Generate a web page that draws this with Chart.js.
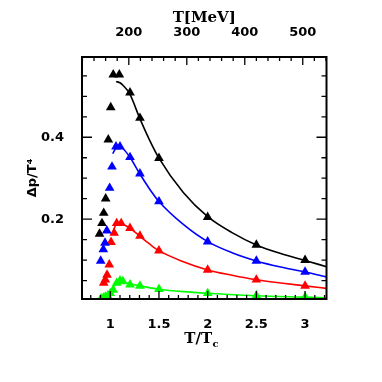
<!DOCTYPE html>
<html>
<head>
<meta charset="utf-8">
<script src="https://cdn.jsdelivr.net/npm/chart.js@4/dist/chart.umd.min.js"></script>
<style>
  html, body { margin: 0; padding: 0; background: #fff; }
  #wrap { width: 382px; height: 382px; }
</style>
</head>
<body>
<div id="wrap"><canvas id="c" width="382" height="382"></canvas></div>
<script>
// lattice points, T/Tc vs delta p / T^4
var blackT = [0.89, 0.915, 0.933, 0.953, 0.98, 1.005, 1.031, 1.093, 1.203, 1.305, 1.5, 2.0, 2.5, 3.0];
var blackP = [0.164, 0.19, 0.215, 0.25, 0.394, 0.473, 0.553, 0.553, 0.509, 0.447, 0.349, 0.205, 0.137, 0.100];

var blueT = [0.902, 0.929, 0.946, 0.965, 0.994, 1.018, 1.059, 1.10, 1.203, 1.305, 1.5, 2.0, 2.5, 3.0];
var blueP = [0.098, 0.126, 0.142, 0.172, 0.276, 0.328, 0.377, 0.377, 0.351, 0.311, 0.243, 0.145, 0.098, 0.071];

var redT = [0.933, 0.95, 0.967, 0.99, 1.008, 1.04, 1.066, 1.112, 1.203, 1.305, 1.5, 2.0, 2.5, 3.0];
var redP = [0.044, 0.052, 0.064, 0.089, 0.144, 0.166, 0.190, 0.190, 0.178, 0.159, 0.123, 0.076, 0.052, 0.037];

var greenT = [0.905, 0.93, 0.95, 0.975, 1.0, 1.03, 1.066, 1.10, 1.13, 1.203, 1.305, 1.5, 2.0, 2.5, 3.0];
var greenP = [0.006, 0.008, 0.010, 0.013, 0.019, 0.027, 0.044, 0.050, 0.048, 0.040, 0.037, 0.029, 0.019, 0.013, 0.0095];

// fitted curves
var blackFitT = [1.06, 1.1, 1.13, 1.2, 1.3, 1.4, 1.5, 1.75, 2.0, 2.25, 2.5, 2.75, 3.0, 3.22];
var blackFitP = [0.536, 0.533, 0.527, 0.506, 0.448, 0.395, 0.349, 0.265, 0.206, 0.167, 0.137, 0.116, 0.099, 0.084];

var blueFitT = [1.025, 1.06, 1.09, 1.2, 1.3, 1.4, 1.5, 1.75, 2.0, 2.25, 2.5, 2.75, 3.0, 3.22];
var blueFitP = [0.360, 0.374, 0.378, 0.352, 0.312, 0.275, 0.243, 0.187, 0.145, 0.118, 0.098, 0.083, 0.071, 0.059];

var redFitT = [1.02, 1.05, 1.09, 1.2, 1.3, 1.4, 1.5, 1.75, 2.0, 2.25, 2.5, 2.75, 3.0, 3.22];
var redFitP = [0.162, 0.183, 0.190, 0.178, 0.159, 0.140, 0.123, 0.096, 0.076, 0.063, 0.052, 0.044, 0.037, 0.031];

var greenFitT = [0.9, 0.95, 1.0, 1.05, 1.1, 1.2, 1.3, 1.5, 1.75, 2.0, 2.5, 3.0, 3.22];
var greenFitP = [0.005, 0.012, 0.024, 0.040, 0.047, 0.042, 0.037, 0.029, 0.023, 0.019, 0.013, 0.0095, 0.008];

// axes
var xTicks = [1, 1.5, 2, 2.5, 3];
var yTicks = [0.2, 0.4];
var mevTicks = [200, 300, 400, 500];
var TC_MEV = 168;
var X_MIN = 0.71, X_MAX = 3.22;
var Y_MIN = 0.005, Y_MAX = 0.596;

function pts(xs, ys) {
  return xs.map(function (x, i) { return { x: x, y: ys[i] }; });
}

function markSet(xs, ys, color) {
  return {
    data: pts(xs, ys),
    showLine: false,
    pointStyle: 'triangle',
    pointRadius: 5.6,
    pointBackgroundColor: color,
    pointBorderColor: color,
    pointBorderWidth: 0,
    order: 0
  };
}

function fitSet(xs, ys, color) {
  return {
    data: pts(xs, ys),
    showLine: true,
    borderColor: color,
    borderWidth: 1.6,
    pointRadius: 0,
    cubicInterpolationMode: 'monotone',
    fill: false,
    order: 1
  };
}

function fixTicks(vals) {
  return function (scale) {
    scale.ticks = vals.map(function (v) { return { value: v }; });
  };
}

var tickFont = { family: 'DejaVu Sans', size: 13, weight: 'bold' };

// frame, inward ticks on all four sides, and the T/Tc title
var framePlugin = {
  id: 'frame',
  afterDraw: function (chart) {
    var ctx = chart.ctx;
    var a = chart.chartArea;
    var xs = chart.scales.x, ys = chart.scales.y, ts = chart.scales.x2;
    var i, v, p;

    ctx.save();
    ctx.strokeStyle = '#000';
    ctx.lineWidth = 1.3;
    ctx.beginPath();

    for (i = 8; i <= 32; i++) {
      v = i / 10;
      p = xs.getPixelForValue(v);
      var lx = (i % 5 === 0) ? 8 : 4;
      ctx.moveTo(p, a.bottom); ctx.lineTo(p, a.bottom - lx);
    }
    for (v = 120; v <= 540; v += 20) {
      p = ts.getPixelForValue(v);
      var lt = (v % 100 === 0) ? 8 : 4;
      ctx.moveTo(p, a.top); ctx.lineTo(p, a.top + lt);
    }
    for (i = 1; i <= 11; i++) {
      v = i * 0.05;
      p = ys.getPixelForValue(v);
      var ly = (i % 4 === 0) ? 10 : 5;
      ctx.moveTo(a.left, p); ctx.lineTo(a.left + ly, p);
      ctx.moveTo(a.right, p); ctx.lineTo(a.right - ly, p);
    }
    ctx.stroke();

    ctx.lineWidth = 2;
    ctx.strokeRect(a.left, a.top, a.right - a.left, a.bottom - a.top);

    // x title with subscript c
    ctx.fillStyle = '#000';
    ctx.textBaseline = 'alphabetic';
    ctx.font = 'bold 15px "DejaVu Serif"';
    var main = 'T/T';
    var w1 = ctx.measureText(main).width;
    ctx.font = 'bold 10px "DejaVu Serif"';
    var w2 = ctx.measureText('c').width;
    var x0 = (a.left + a.right) / 2 - (w1 + w2) / 2 - 3;
    ctx.font = 'bold 15px "DejaVu Serif"';
    ctx.fillText(main, x0, 343);
    ctx.font = 'bold 10px "DejaVu Serif"';
    ctx.fillText('c', x0 + w1 + 0.5, 347);
    ctx.restore();
  }
};

new Chart(document.getElementById('c'), {
  type: 'scatter',
  data: {
    datasets: [
      markSet(blackT, blackP, '#000000'),
      markSet(blueT, blueP, '#0000ff'),
      markSet(redT, redP, '#ff0000'),
      markSet(greenT, greenP, '#00ff00'),
      fitSet(blackFitT, blackFitP, '#000000'),
      fitSet(blueFitT, blueFitP, '#0000ff'),
      fitSet(redFitT, redFitP, '#ff0000'),
      fitSet(greenFitT, greenFitP, '#00ff00')
    ]
  },
  options: {
    responsive: false,
    animation: false,
    devicePixelRatio: 1,
    layout: { padding: { left: 0, right: 55.5, top: 0, bottom: 0 } },
    plugins: { legend: { display: false }, tooltip: { enabled: false } },
    scales: {
      x: {
        type: 'linear', position: 'bottom', min: X_MIN, max: X_MAX,
        grid: { display: false }, border: { display: false },
        afterBuildTicks: fixTicks(xTicks),
        afterFit: function (s) { s.height = 83; },
        ticks: { font: tickFont, color: '#000', padding: 10, maxRotation: 0,
          callback: function (v) { return String(v); } }
      },
      x2: {
        type: 'linear', position: 'top', min: X_MIN * TC_MEV, max: X_MAX * TC_MEV,
        grid: { display: false }, border: { display: false },
        afterBuildTicks: fixTicks(mevTicks),
        afterFit: function (s) { s.height = 57; },
        ticks: { font: tickFont, color: '#000', padding: 9, maxRotation: 0,
          callback: function (v) { return String(v); } },
        title: { display: true, text: 'T[MeV]', color: '#000',
          font: { family: 'DejaVu Serif', size: 15, weight: 'bold' },
          padding: { top: 9, bottom: 0 } }
      },
      y: {
        type: 'linear', position: 'left', min: Y_MIN, max: Y_MAX,
        grid: { display: false }, border: { display: false },
        afterBuildTicks: fixTicks(yTicks),
        afterFit: function (s) { s.width = 82; },
        ticks: { font: tickFont, color: '#000', padding: 10,
          callback: function (v) { return String(v); } },
        title: { display: true, text: 'Δp/T⁴', color: '#000',
          font: { family: 'DejaVu Sans', size: 13, weight: 'bold' },
          padding: { top: 25, bottom: 0 } }
      }
    }
  },
  plugins: [framePlugin]
});
</script>
</body>
</html>
